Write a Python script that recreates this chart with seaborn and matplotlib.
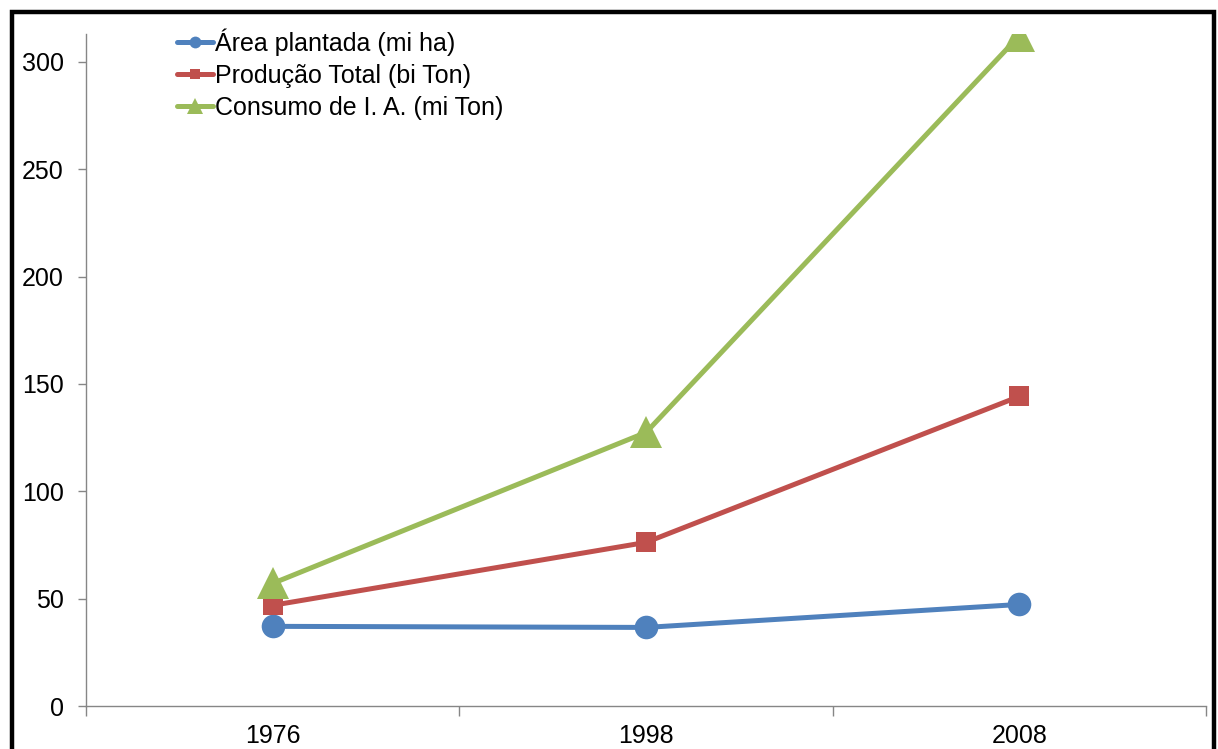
import matplotlib
matplotlib.use("Agg")
import matplotlib.pyplot as plt
import seaborn as sns
from matplotlib.patches import Rectangle
from matplotlib.ticker import FixedLocator

# dados
anos = ["1976", "1998", "2008"]
area_plantada = [37.1, 36.6, 47.3]
producao_total = [46.9, 76.2, 144.2]
consumo_ia = [57.1, 127.4, 312.2]

series = [
    ("Área plantada (mi ha)", area_plantada, "#4F81BD", "o", 17),
    ("Produção Total (bi Ton)", producao_total, "#C0504D", "s", 14.5),
    ("Consumo de I. A. (mi Ton)", consumo_ia, "#9BBB59", "^", 23),
]

sns.set_theme(style="white")
plt.rcParams['font.family'] = ['Liberation Sans', 'DejaVu Sans']
plt.rcParams['text.color'] = 'black'

fig = plt.figure(figsize=(12.18, 7.49), dpi=100)
# eixo: x de 86 a 1206 px, y de 34 a 706 px
ax = fig.add_axes([86 / 1218, 1 - 706 / 749, 1120 / 1218, 672 / 749])

for nome, vals, cor, mk, ms in series:
    sns.lineplot(x=anos, y=vals, ax=ax, color=cor, marker=mk, markersize=ms,
                 markeredgewidth=0, linewidth=3.6, label=nome)

ax.set_xlim(-0.5, 2.5)
ax.set_ylim(0, 313)
ax.set_yticks([0, 50, 100, 150, 200, 250, 300])
ax.set_xticks([0, 1, 2])
ax.set_xticklabels(anos)
ax.xaxis.set_minor_locator(FixedLocator([-0.5, 0.5, 1.5, 2.5]))

ax.tick_params(axis='y', which='major', left=True, length=6, width=1,
               color='#868686', pad=10, labelsize=18, labelcolor='black')
ax.tick_params(axis='x', which='major', bottom=False, length=0, pad=13,
               labelsize=18, labelcolor='black')
ax.tick_params(axis='x', which='minor', bottom=True, direction='out',
               length=7, width=1, color='#868686')

for s in ['top', 'right']:
    ax.spines[s].set_visible(False)
for s in ['left', 'bottom']:
    ax.spines[s].set_color('#868686')
    ax.spines[s].set_linewidth(1)
ax.set_xlabel('')
ax.set_ylabel('')

leg = ax.legend(loc='upper left', bbox_to_anchor=(177 / 1218, 1 - 28 / 749),
                bbox_transform=fig.transFigure, frameon=False, fontsize=18,
                markerscale=0.5, handlelength=1.45, handletextpad=0.08,
                labelspacing=0.33, borderpad=0, borderaxespad=0)
for t in leg.get_texts():
    t.set_color('black')

# moldura preta do quadro
fig.patches.append(Rectangle((11.5 / 1218, -0.05), (1214 - 11.5) / 1218,
                             1.05 - 11.5 / 749, transform=fig.transFigure,
                             fill=False, edgecolor='black', linewidth=3.2))

fig.savefig('out.png', dpi=100)
